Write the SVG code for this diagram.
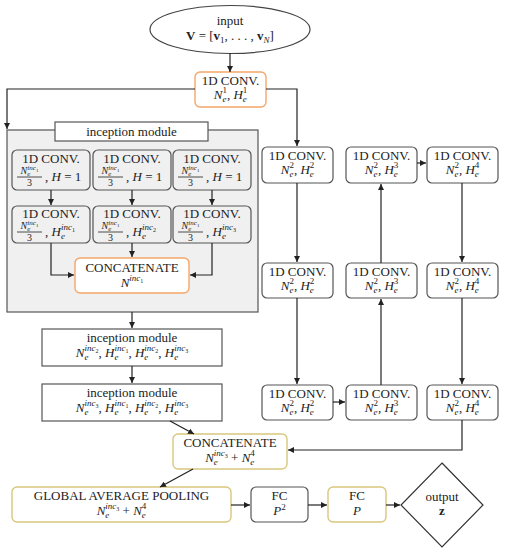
<svg xmlns="http://www.w3.org/2000/svg" width="506" height="550" viewBox="0 0 506 550">
<style>
.t{font-family:"Liberation Serif","DejaVu Serif",serif;font-size:13px;fill:#222;text-anchor:middle}
.l{text-anchor:start}
.i{font-style:italic}
.sc{font-size:9px}
.ss{font-size:6px}
.b{font-weight:bold}
.box{fill:#fff;stroke:#555;stroke-width:1.2}
.gbox{fill:#f0f0f0;stroke:#555;stroke-width:1.2}
.org{fill:#fff;stroke:#f5a66a;stroke-width:1.4}
.yel{fill:#fff;stroke:#d8c87e;stroke-width:1.4}
.c{fill:none;stroke:#222;stroke-width:1.2;marker-end:url(#a)}
.bar{stroke:#222;stroke-width:0.8}
</style>
<defs>
<marker id="a" markerUnits="userSpaceOnUse" markerWidth="7" markerHeight="6" refX="6" refY="3" orient="auto"><path d="M0,0 L6,3 L0,6 Z" fill="#222"/></marker>
</defs>

<g id="input">
<ellipse cx="230" cy="29.5" rx="80" ry="24" fill="#fff" stroke="#444" stroke-width="1.2"/>
<text class="t" x="230" y="25">input</text>
<text class="t" x="230" y="40"><tspan class="b">V</tspan> = [<tspan class="b">v</tspan><tspan class="sc" dy="3">1</tspan><tspan dy="-3">, . . . , </tspan><tspan class="b">v</tspan><tspan class="sc i" dy="3">N</tspan><tspan dy="-3">]</tspan></text>
</g>

<g id="conv1">
<rect class="org" x="195" y="72" width="71" height="35" rx="5"/>
<text class="t" x="230.5" y="85">1D CONV.</text>
<text class="t" x="230.5" y="99"><tspan class="i">N</tspan><tspan class="sc i" dy="3">e</tspan><tspan class="sc" dx="-4" dy="-9">1</tspan><tspan dy="6">, </tspan><tspan class="i">H</tspan><tspan class="sc i" dy="3">e</tspan><tspan class="sc" dx="-4" dy="-9">1</tspan></text>
</g>

<g id="inception1">
<rect class="gbox" x="7" y="130" width="251" height="182"/>
<rect x="55" y="122" width="153" height="19" fill="#fff" stroke="#555" stroke-width="1.2"/>
<text class="t" x="131.5" y="136">inception module</text>
</g>

<g id="inc-conv-1a">
<rect class="gbox" x="12" y="150" width="78" height="40" rx="5"/>
<text class="t" x="51" y="163">1D CONV.</text>
<text class="t" x="29.5" y="174" style="font-size:10px"><tspan class="i">N</tspan><tspan class="i" style="font-size:7px" dy="2">e</tspan><tspan class="i" style="font-size:7px" dx="-3" dy="-6">inc</tspan><tspan style="font-size:5px" dy="1.5">1</tspan></text>
<line class="bar" x1="17" y1="177" x2="42" y2="177"/>
<text class="t" x="29.5" y="186" style="font-size:10px">3</text>
<text class="t l" x="45" y="181">, <tspan class="i">H</tspan> = 1</text>
</g>
<g id="inc-conv-1b">
<rect class="gbox" x="93" y="150" width="78" height="40" rx="5"/>
<text class="t" x="132" y="163">1D CONV.</text>
<text class="t" x="110.5" y="174" style="font-size:10px"><tspan class="i">N</tspan><tspan class="i" style="font-size:7px" dy="2">e</tspan><tspan class="i" style="font-size:7px" dx="-3" dy="-6">inc</tspan><tspan style="font-size:5px" dy="1.5">1</tspan></text>
<line class="bar" x1="98" y1="177" x2="123" y2="177"/>
<text class="t" x="110.5" y="186" style="font-size:10px">3</text>
<text class="t l" x="126" y="181">, <tspan class="i">H</tspan> = 1</text>
</g>
<g id="inc-conv-1c">
<rect class="gbox" x="173" y="150" width="78" height="40" rx="5"/>
<text class="t" x="212" y="163">1D CONV.</text>
<text class="t" x="190.5" y="174" style="font-size:10px"><tspan class="i">N</tspan><tspan class="i" style="font-size:7px" dy="2">e</tspan><tspan class="i" style="font-size:7px" dx="-3" dy="-6">inc</tspan><tspan style="font-size:5px" dy="1.5">1</tspan></text>
<line class="bar" x1="178" y1="177" x2="203" y2="177"/>
<text class="t" x="190.5" y="186" style="font-size:10px">3</text>
<text class="t l" x="206" y="181">, <tspan class="i">H</tspan> = 1</text>
</g>

<g id="inc-conv-2a">
<rect class="gbox" x="12" y="206" width="78" height="37" rx="5"/>
<text class="t" x="51" y="218">1D CONV.</text>
<text class="t" x="29.5" y="229" style="font-size:10px"><tspan class="i">N</tspan><tspan class="i" style="font-size:7px" dy="2">e</tspan><tspan class="i" style="font-size:7px" dx="-3" dy="-6">inc</tspan><tspan style="font-size:5px" dy="1.5">1</tspan></text>
<line class="bar" x1="17" y1="232" x2="42" y2="232"/>
<text class="t" x="29.5" y="241" style="font-size:10px">3</text>
<text class="t l" x="45" y="236">, <tspan class="i">H</tspan><tspan class="sc i" dy="3">e</tspan><tspan class="sc i" dx="-4" dy="-9">inc</tspan><tspan class="ss" dy="2">1</tspan></text>
</g>
<g id="inc-conv-2b">
<rect class="gbox" x="93" y="206" width="78" height="37" rx="5"/>
<text class="t" x="132" y="218">1D CONV.</text>
<text class="t" x="110.5" y="229" style="font-size:10px"><tspan class="i">N</tspan><tspan class="i" style="font-size:7px" dy="2">e</tspan><tspan class="i" style="font-size:7px" dx="-3" dy="-6">inc</tspan><tspan style="font-size:5px" dy="1.5">1</tspan></text>
<line class="bar" x1="98" y1="232" x2="123" y2="232"/>
<text class="t" x="110.5" y="241" style="font-size:10px">3</text>
<text class="t l" x="126" y="236">, <tspan class="i">H</tspan><tspan class="sc i" dy="3">e</tspan><tspan class="sc i" dx="-4" dy="-9">inc</tspan><tspan class="ss" dy="2">2</tspan></text>
</g>
<g id="inc-conv-2c">
<rect class="gbox" x="173" y="206" width="78" height="37" rx="5"/>
<text class="t" x="212" y="218">1D CONV.</text>
<text class="t" x="190.5" y="229" style="font-size:10px"><tspan class="i">N</tspan><tspan class="i" style="font-size:7px" dy="2">e</tspan><tspan class="i" style="font-size:7px" dx="-3" dy="-6">inc</tspan><tspan style="font-size:5px" dy="1.5">1</tspan></text>
<line class="bar" x1="178" y1="232" x2="203" y2="232"/>
<text class="t" x="190.5" y="241" style="font-size:10px">3</text>
<text class="t l" x="206" y="236">, <tspan class="i">H</tspan><tspan class="sc i" dy="3">e</tspan><tspan class="sc i" dx="-4" dy="-9">inc</tspan><tspan class="ss" dy="2">3</tspan></text>
</g>

<g id="concat-inner">
<rect class="org" x="75" y="258" width="114" height="35" rx="5"/>
<text class="t" x="132" y="272">CONCATENATE</text>
<text class="t" x="132" y="287"><tspan class="i">N</tspan><tspan class="sc i" dy="-6">inc</tspan><tspan class="ss" dy="2">1</tspan></text>
</g>

<g id="inception2">
<rect class="box" x="42" y="329" width="180" height="37"/>
<text class="t" x="132" y="342">inception module</text>
<text class="t" x="132" y="357"><tspan class="i">N</tspan><tspan class="sc i" dy="3">e</tspan><tspan class="sc i" dx="-4" dy="-9">inc</tspan><tspan class="ss" dy="2">2</tspan><tspan dy="4">, </tspan><tspan class="i">H</tspan><tspan class="sc i" dy="3">e</tspan><tspan class="sc i" dx="-4" dy="-9">inc</tspan><tspan class="ss" dy="2">1</tspan><tspan dy="4">, </tspan><tspan class="i">H</tspan><tspan class="sc i" dy="3">e</tspan><tspan class="sc i" dx="-4" dy="-9">inc</tspan><tspan class="ss" dy="2">2</tspan><tspan dy="4">, </tspan><tspan class="i">H</tspan><tspan class="sc i" dy="3">e</tspan><tspan class="sc i" dx="-4" dy="-9">inc</tspan><tspan class="ss" dy="2">3</tspan></text>
</g>

<g id="inception3">
<rect class="box" x="42" y="384" width="180" height="37"/>
<text class="t" x="132" y="397">inception module</text>
<text class="t" x="132" y="412"><tspan class="i">N</tspan><tspan class="sc i" dy="3">e</tspan><tspan class="sc i" dx="-4" dy="-9">inc</tspan><tspan class="ss" dy="2">3</tspan><tspan dy="4">, </tspan><tspan class="i">H</tspan><tspan class="sc i" dy="3">e</tspan><tspan class="sc i" dx="-4" dy="-9">inc</tspan><tspan class="ss" dy="2">1</tspan><tspan dy="4">, </tspan><tspan class="i">H</tspan><tspan class="sc i" dy="3">e</tspan><tspan class="sc i" dx="-4" dy="-9">inc</tspan><tspan class="ss" dy="2">2</tspan><tspan dy="4">, </tspan><tspan class="i">H</tspan><tspan class="sc i" dy="3">e</tspan><tspan class="sc i" dx="-4" dy="-9">inc</tspan><tspan class="ss" dy="2">3</tspan></text>
</g>

<g id="convA1">
<rect class="box" x="262" y="147" width="71" height="36" rx="5"/>
<text class="t" x="297.5" y="160">1D CONV.</text>
<text class="t" x="297.5" y="174"><tspan class="i">N</tspan><tspan class="sc i" dy="3">e</tspan><tspan class="sc" dx="-4" dy="-9">2</tspan><tspan dy="6">, </tspan><tspan class="i">H</tspan><tspan class="sc i" dy="3">e</tspan><tspan class="sc" dx="-4" dy="-9">2</tspan></text>
</g>
<g id="convA2">
<rect class="box" x="262" y="263" width="71" height="35" rx="5"/>
<text class="t" x="297.5" y="276">1D CONV.</text>
<text class="t" x="297.5" y="290"><tspan class="i">N</tspan><tspan class="sc i" dy="3">e</tspan><tspan class="sc" dx="-4" dy="-9">2</tspan><tspan dy="6">, </tspan><tspan class="i">H</tspan><tspan class="sc i" dy="3">e</tspan><tspan class="sc" dx="-4" dy="-9">2</tspan></text>
</g>
<g id="convA3">
<rect class="box" x="262" y="385" width="71" height="35" rx="5"/>
<text class="t" x="297.5" y="398">1D CONV.</text>
<text class="t" x="297.5" y="412"><tspan class="i">N</tspan><tspan class="sc i" dy="3">e</tspan><tspan class="sc" dx="-4" dy="-9">2</tspan><tspan dy="6">, </tspan><tspan class="i">H</tspan><tspan class="sc i" dy="3">e</tspan><tspan class="sc" dx="-4" dy="-9">2</tspan></text>
</g>

<g id="convB1">
<rect class="box" x="346" y="147" width="71" height="36" rx="5"/>
<text class="t" x="381.5" y="160">1D CONV.</text>
<text class="t" x="381.5" y="174"><tspan class="i">N</tspan><tspan class="sc i" dy="3">e</tspan><tspan class="sc" dx="-4" dy="-9">2</tspan><tspan dy="6">, </tspan><tspan class="i">H</tspan><tspan class="sc i" dy="3">e</tspan><tspan class="sc" dx="-4" dy="-9">3</tspan></text>
</g>
<g id="convB2">
<rect class="box" x="346" y="263" width="71" height="35" rx="5"/>
<text class="t" x="381.5" y="276">1D CONV.</text>
<text class="t" x="381.5" y="290"><tspan class="i">N</tspan><tspan class="sc i" dy="3">e</tspan><tspan class="sc" dx="-4" dy="-9">2</tspan><tspan dy="6">, </tspan><tspan class="i">H</tspan><tspan class="sc i" dy="3">e</tspan><tspan class="sc" dx="-4" dy="-9">3</tspan></text>
</g>
<g id="convB3">
<rect class="box" x="346" y="385" width="71" height="35" rx="5"/>
<text class="t" x="381.5" y="398">1D CONV.</text>
<text class="t" x="381.5" y="412"><tspan class="i">N</tspan><tspan class="sc i" dy="3">e</tspan><tspan class="sc" dx="-4" dy="-9">2</tspan><tspan dy="6">, </tspan><tspan class="i">H</tspan><tspan class="sc i" dy="3">e</tspan><tspan class="sc" dx="-4" dy="-9">3</tspan></text>
</g>

<g id="convC1">
<rect class="box" x="427" y="147" width="71" height="36" rx="5"/>
<text class="t" x="462.5" y="160">1D CONV.</text>
<text class="t" x="462.5" y="174"><tspan class="i">N</tspan><tspan class="sc i" dy="3">e</tspan><tspan class="sc" dx="-4" dy="-9">2</tspan><tspan dy="6">, </tspan><tspan class="i">H</tspan><tspan class="sc i" dy="3">e</tspan><tspan class="sc" dx="-4" dy="-9">4</tspan></text>
</g>
<g id="convC2">
<rect class="box" x="427" y="263" width="71" height="35" rx="5"/>
<text class="t" x="462.5" y="276">1D CONV.</text>
<text class="t" x="462.5" y="290"><tspan class="i">N</tspan><tspan class="sc i" dy="3">e</tspan><tspan class="sc" dx="-4" dy="-9">2</tspan><tspan dy="6">, </tspan><tspan class="i">H</tspan><tspan class="sc i" dy="3">e</tspan><tspan class="sc" dx="-4" dy="-9">4</tspan></text>
</g>
<g id="convC3">
<rect class="box" x="427" y="385" width="71" height="35" rx="5"/>
<text class="t" x="462.5" y="398">1D CONV.</text>
<text class="t" x="462.5" y="412"><tspan class="i">N</tspan><tspan class="sc i" dy="3">e</tspan><tspan class="sc" dx="-4" dy="-9">2</tspan><tspan dy="6">, </tspan><tspan class="i">H</tspan><tspan class="sc i" dy="3">e</tspan><tspan class="sc" dx="-4" dy="-9">4</tspan></text>
</g>

<g id="concat">
<rect class="yel" x="173" y="434" width="114" height="35" rx="5"/>
<text class="t" x="230" y="447">CONCATENATE</text>
<text class="t" x="230" y="462"><tspan class="i">N</tspan><tspan class="sc i" dy="3">e</tspan><tspan class="sc i" dx="-4" dy="-9">inc</tspan><tspan class="ss" dy="2">3</tspan><tspan dy="4">  +  </tspan><tspan class="i">N</tspan><tspan class="sc i" dy="3">e</tspan><tspan class="sc" dx="-4" dy="-9">4</tspan></text>
</g>

<g id="gap">
<rect class="yel" x="12" y="487" width="219" height="35" rx="5"/>
<text class="t" x="121.5" y="500">GLOBAL AVERAGE POOLING</text>
<text class="t" x="121.5" y="515"><tspan class="i">N</tspan><tspan class="sc i" dy="3">e</tspan><tspan class="sc i" dx="-4" dy="-9">inc</tspan><tspan class="ss" dy="2">3</tspan><tspan dy="4">  +  </tspan><tspan class="i">N</tspan><tspan class="sc i" dy="3">e</tspan><tspan class="sc" dx="-4" dy="-9">4</tspan></text>
</g>

<g id="fc1">
<rect class="box" x="251" y="487" width="57" height="35" rx="5"/>
<text class="t" x="279.5" y="500">FC</text>
<text class="t" x="279.5" y="515"><tspan class="i">P</tspan><tspan class="sc" dy="-5">2</tspan></text>
</g>

<g id="fc2">
<rect class="yel" x="328" y="487" width="58" height="35" rx="5"/>
<text class="t" x="357" y="500">FC</text>
<text class="t i" x="357" y="515">P</text>
</g>

<g id="output">
<polygon points="442,463 483,505 442,547 401,505" fill="#fff" stroke="#333" stroke-width="1.2"/>
<text class="t" x="442" y="501">output</text>
<text class="t b" x="442" y="515">z</text>
</g>

<g id="connectors">
<path class="c" d="M230,53 V72"/>
<path class="c" d="M195,89 H7 V129"/>
<path class="c" d="M266,89 H297 V146"/>
<path class="c" d="M51,190 V205"/>
<path class="c" d="M132,190 V205"/>
<path class="c" d="M212,190 V205"/>
<path class="c" d="M51,243 V275 H74"/>
<path class="c" d="M212,243 V275 H190"/>
<path class="c" d="M132,243 V257"/>
<path class="c" d="M132,312 V328"/>
<path class="c" d="M132,366 V383"/>
<path class="c" d="M170,421 L194,434"/>
<path class="c" d="M297,183 V262"/>
<path class="c" d="M297,298 V384"/>
<path class="c" d="M333,402 H345"/>
<path class="c" d="M381,385 V299"/>
<path class="c" d="M381,263 V184"/>
<path class="c" d="M417,163 H426"/>
<path class="c" d="M462,183 V262"/>
<path class="c" d="M462,298 V384"/>
<path class="c" d="M462,420 V450 H288"/>
<path class="c" d="M193,469 L160,487"/>
<path class="c" d="M231,505 H250"/>
<path class="c" d="M308,505 H327"/>
<path class="c" d="M386,505 H400"/>
</g>
</svg>
